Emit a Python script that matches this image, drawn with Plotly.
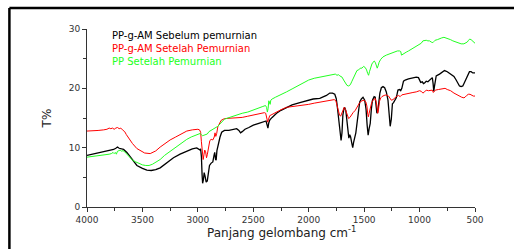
import plotly.graph_objects as go

# ---- data (wavenumber cm^-1, T%) ----
black_x = [4000,3950,3900,3850,3820,3790,3760,3740,3725,3710,3690,3670,3640,3610,3580,3550,3500,3460,3420,3380,3340,3310,3260,3220,3160,3100,3050,3010,2990,2980,2975,2968,2962,2957,2950,2943,2935,2925,2915,2905,2895,2880,2865,2855,2848,2840,2835,2828,2815,2800,2785,2760,2720,2680,2650,2630,2615,2600,2575,2540,2500,2450,2400,2385,2375,2368,2360,2350,2330,2290,2250,2200,2150,2080,2020,1960,1900,1870,1840,1810,1785,1765,1752,1745,1732,1720,1708,1700,1692,1682,1675,1665,1655,1645,1638,1630,1622,1612,1603,1595,1585,1575,1565,1555,1540,1525,1510,1495,1483,1473,1464,1455,1445,1435,1425,1410,1400,1392,1385,1378,1370,1358,1345,1330,1315,1300,1285,1275,1265,1255,1245,1235,1225,1210,1195,1180,1170,1160,1145,1130,1100,1060,1030,1010,1000,990,975,965,955,940,925,910,895,885,878,872,866,858,850,820,800,775,750,715,690,670,655,640,625,610,595,580,565,550,535,520,500]
black_y = [8.7,8.9,9.1,9.3,9.5,9.6,9.7,9.9,10.1,9.9,9.8,9.7,9.2,8.4,7.6,7.0,6.5,6.2,6.15,6.3,6.6,7.0,7.7,8.3,8.9,9.45,9.8,9.96,9.8,9.6,9.8,8.5,5.5,4.0,4.6,5.8,5.2,4.2,4.4,5.8,7.0,7.4,7.6,8.6,9.2,8.0,7.9,9.5,10.7,11.8,12.6,12.9,12.9,13.0,13.2,12.9,12.5,12.7,13.1,13.4,13.8,14.1,14.4,14.5,13.8,13.3,14.2,14.7,15.1,15.8,16.3,16.8,17.2,17.6,17.9,18.2,18.3,18.5,18.8,19.2,19.2,19.0,18.3,17.4,15.0,12.4,11.2,12.5,15.5,16.6,16.8,16.2,14.6,12.0,11.6,12.2,11.8,10.8,10.0,10.9,11.5,12.5,14.0,16.0,17.7,18.2,18.5,18.0,16.5,13.8,12.1,13.2,14.1,16.5,18.0,18.6,18.5,17.0,15.8,16.0,17.7,19.2,20.1,20.3,20.1,19.4,18.0,15.5,13.6,14.8,17.4,17.6,18.0,18.4,19.7,19.8,19.6,20.0,21.2,21.4,21.6,21.8,21.9,21.8,21.3,21.0,21.1,20.8,20.9,21.2,21.1,21.4,21.6,21.8,20.8,19.5,20.3,21.8,22.1,22.4,22.7,23.0,22.8,22.4,22.0,21.4,20.9,20.4,20.3,20.4,21.0,21.7,22.3,22.8,22.8,22.6,22.6]

red_x = [4000,3950,3900,3850,3820,3800,3785,3770,3755,3740,3725,3710,3695,3680,3670,3660,3645,3620,3590,3550,3510,3480,3430,3380,3340,3300,3250,3200,3150,3100,3050,3000,2985,2975,2968,2960,2952,2945,2938,2930,2922,2915,2905,2892,2880,2865,2852,2845,2838,2830,2820,2805,2790,2760,2700,2650,2600,2550,2500,2450,2400,2388,2378,2370,2362,2352,2340,2320,2300,2250,2200,2150,2100,2050,2000,1950,1900,1850,1800,1770,1755,1745,1732,1722,1712,1702,1690,1680,1670,1660,1650,1640,1628,1615,1600,1580,1560,1540,1520,1500,1485,1475,1467,1462,1455,1445,1432,1420,1400,1390,1382,1377,1370,1362,1350,1340,1320,1300,1280,1265,1255,1240,1225,1210,1190,1175,1160,1140,1100,1060,1030,1000,985,970,955,940,920,900,885,876,868,858,830,800,770,750,720,690,660,640,620,600,590,575,560,545,530,515,500]
red_y = [12.8,12.8,12.9,13.0,13.1,13.3,13.2,13.3,13.1,13.3,13.4,13.2,13.3,13.0,12.8,12.7,12.2,11.5,10.7,9.85,9.4,9.1,9.0,9.45,10.1,10.7,11.3,11.8,12.3,12.8,13.0,13.1,13.0,12.6,11.0,8.5,8.0,8.8,9.6,9.3,8.3,8.8,10.1,11.2,11.4,11.3,11.8,12.5,11.9,12.4,13.5,14.2,14.6,14.9,15.0,15.0,15.1,15.3,15.5,15.7,15.9,15.8,15.0,14.3,14.8,15.4,15.5,15.7,16.0,16.4,16.8,16.9,17.0,17.2,17.3,17.5,17.7,17.9,18.0,18.1,17.9,17.2,16.3,15.5,15.3,15.8,16.5,16.8,16.5,16.0,15.2,14.9,15.1,15.5,15.9,16.3,17.0,17.6,17.9,18.0,17.7,17.0,15.6,15.2,15.8,16.8,17.6,18.0,18.3,17.6,16.2,15.8,16.5,17.8,18.4,18.6,18.8,18.9,18.7,18.2,18.0,18.1,18.4,18.6,18.8,18.6,18.9,19.0,19.1,19.3,19.4,19.6,19.5,19.2,19.4,19.7,19.6,19.7,19.7,19.3,19.5,19.7,19.8,19.9,20.0,19.8,19.6,19.2,18.9,18.6,18.5,18.4,18.5,18.8,19.0,19.0,18.8,18.7,18.7]

green_x = [4000,3950,3900,3850,3820,3800,3780,3765,3755,3745,3735,3725,3712,3700,3690,3675,3660,3640,3620,3590,3560,3530,3500,3470,3440,3410,3380,3340,3300,3250,3200,3150,3100,3060,3020,2990,2978,2968,2958,2945,2930,2915,2900,2880,2850,2820,2800,2780,2760,2730,2700,2650,2600,2550,2500,2460,2420,2390,2380,2373,2366,2360,2354,2348,2342,2330,2300,2250,2200,2150,2100,2050,2000,1950,1900,1850,1800,1775,1760,1745,1730,1720,1700,1685,1670,1655,1640,1625,1610,1595,1580,1565,1550,1535,1520,1505,1490,1478,1468,1460,1452,1442,1430,1420,1408,1398,1390,1382,1374,1365,1350,1330,1300,1275,1250,1225,1200,1180,1170,1163,1155,1145,1120,1100,1075,1050,1025,1000,985,970,955,940,925,910,895,880,870,860,840,820,800,780,760,740,720,700,675,650,625,600,585,570,558,548,535,520,500]
green_y = [8.4,8.5,8.6,8.7,8.85,8.9,9.0,9.2,9.0,9.2,8.9,9.4,9.5,9.6,9.4,9.5,9.3,8.9,8.4,7.9,7.6,7.3,7.1,7.0,7.0,7.2,7.5,8.0,8.7,9.4,10.1,10.8,11.4,11.8,12.1,12.4,12.4,12.2,12.0,12.1,12.2,12.3,12.7,12.9,13.2,13.6,14.0,14.4,14.8,15.0,15.2,15.5,15.8,16.0,16.3,16.6,16.9,17.1,16.8,16.0,16.6,17.9,17.6,17.3,18.0,18.2,18.5,18.9,19.4,19.9,20.4,20.9,21.4,21.7,21.9,22.1,22.2,22.3,22.4,22.2,22.3,22.1,21.9,21.4,20.9,20.5,20.4,20.6,21.2,21.9,22.5,23.0,23.1,23.4,23.4,23.7,23.5,23.1,22.5,22.2,22.8,23.6,24.1,24.4,24.6,24.3,23.8,23.4,23.8,24.4,24.9,25.3,25.6,25.8,25.9,26.1,26.3,26.3,26.2,25.6,25.7,25.9,26.1,26.3,26.6,26.9,27.1,27.4,27.6,28.0,28.1,28.1,28.0,28.0,27.8,27.7,27.9,28.1,28.2,28.4,28.5,28.6,28.5,28.4,28.2,28.0,27.8,27.6,27.5,27.5,27.6,27.8,28.1,28.3,28.2,27.9,27.6]

series_names = ["PP-g-AM Sebelum pemurnian", "PP-g-AM Setelah Pemurnian", "PP Setelah Pemurnian"]
series_colors = ["#000000", "#ff0000", "#22ff22"]
x_ticks = [4000, 3500, 3000, 2500, 2000, 1500, 1000, 500]
y_ticks = [0, 10, 20, 30]
x_title = "Panjang gelombang cm<sup>-1</sup>"
y_title = "T%"

FONT = "DejaVu Sans, Arial, sans-serif"

fig = go.Figure()
for xs, ys, name, col, w in [(black_x, black_y, series_names[0], series_colors[0], 1.3),
                              (red_x, red_y, series_names[1], series_colors[1], 1.0),
                              (green_x, green_y, series_names[2], series_colors[2], 1.0)]:
    fig.add_trace(go.Scatter(x=xs, y=ys, mode="lines", name=name,
                             line=dict(color=col, width=w), showlegend=False, hoverinfo="skip"))

# legend as coloured text (one block, three lines)
legend_text = "<br>".join(f"<span style='color:{c}'>{n}</span>" for n, c in zip(series_names, series_colors))
fig.add_annotation(xref="paper", yref="paper", x=0.06, y=1.005, xanchor="left", yanchor="top",
                   align="left", text=legend_text, showarrow=False,
                   font=dict(family=FONT, size=10, color="#000000"))

# x-axis title placed as annotation
fig.add_annotation(xref="paper", yref="paper", x=0.5, y=-0.142, xanchor="center", yanchor="middle",
                   text=x_title, showarrow=False, font=dict(family=FONT, size=12, color="#222222"))

# outer frame (top & left edges)
fig.add_shape(type="line", xref="paper", yref="paper", x0=-0.2, x1=1.2, y0=1.118, y1=1.118,
              line=dict(color="black", width=2.5))
fig.add_shape(type="line", xref="paper", yref="paper", x0=-0.2, x1=-0.2, y0=1.118, y1=-0.3,
              line=dict(color="black", width=2.5))

axis_common = dict(showgrid=False, zeroline=False, showline=True, linecolor="#333333", linewidth=1,
                   ticks="outside", tickcolor="#333333", tickwidth=1, ticklen=4,
                   tickfont=dict(family=FONT, size=9, color="#333333"))

fig.update_xaxes(range=[4000, 500], tickvals=x_ticks, ticktext=[str(v) for v in x_ticks],
                 minor=dict(dtick=250, tick0=500, ticks="outside", ticklen=3, tickcolor="#333333"),
                 **axis_common)
fig.update_yaxes(range=[0, 30], tickvals=y_ticks, ticktext=[str(v) for v in y_ticks],
                 minor=dict(dtick=5, tick0=0, ticks="outside", ticklen=3, tickcolor="#333333"),
                 title=dict(text=y_title, font=dict(family=FONT, size=12, color="#222222"), standoff=14),
                 **axis_common)

fig.update_layout(width=514, height=249, margin=dict(l=87, r=39, t=29, b=42),
                  plot_bgcolor="white", paper_bgcolor="white", showlegend=False)

fig.write_html("out.html", config={"displayModeBar": False},
               post_script="document.body.style.margin='0';")
